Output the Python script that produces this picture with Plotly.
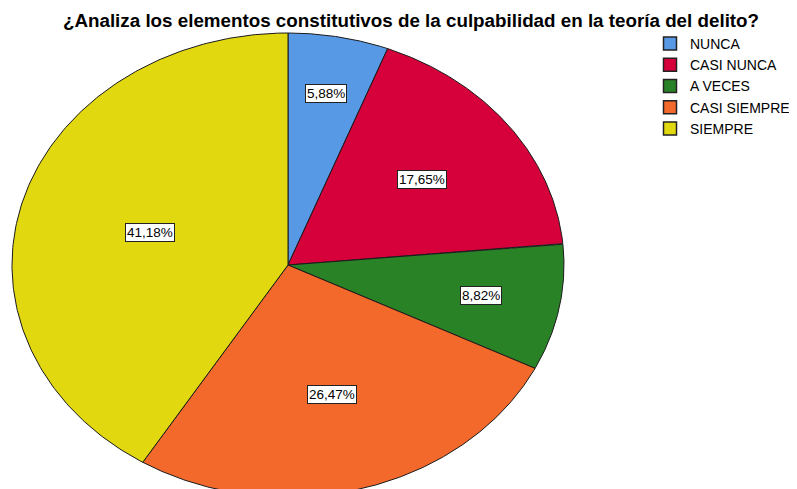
"""
Elliptical pie (SPSS style) — culpabilidad en la teoría del delito.
"""

import numpy as np
import plotly.graph_objects as go

categories = ["NUNCA", "CASI NUNCA", "A VECES", "CASI SIEMPRE", "SIEMPRE"]
percent = [5.88, 17.65, 8.82, 26.47, 41.18]
labels = ["5,88%", "17,65%", "8,82%", "26,47%", "41,18%"]

colors = ["#5899E5", "#D6003A", "#2A8227", "#F2692B", "#E2D80F"]
label_r = [0.75, 0.61, 0.71, 0.58, 0.52]

W, H = 797, 489
OFF = 8  # page body margin shifts the figure by 8px
cx, cy = 288 - OFF, 265 - OFF
rx, ry = 276, 232
FONT = "Liberation Sans, Arial"

fig = go.Figure()

total = sum(percent)
start = 0.0
for i, (cat, p) in enumerate(zip(categories, percent)):
    a0 = start / total * 2 * np.pi
    a1 = (start + p) / total * 2 * np.pi
    t = np.linspace(a0, a1, 200)
    xs = np.concatenate([[cx], cx + rx * np.sin(t), [cx]])
    ys = np.concatenate([[cy], cy - ry * np.cos(t), [cy]])
    fig.add_trace(go.Scatter(
        x=xs, y=ys,
        mode="lines",
        fill="toself",
        fillcolor=colors[i],
        line=dict(color="#1a1a1a", width=1),
        name=cat,
        hoverinfo="name",
        showlegend=False,
    ))
    # legend-only square swatch
    fig.add_trace(go.Scatter(
        x=[None], y=[None],
        mode="markers",
        marker=dict(symbol="square", size=13, color=colors[i],
                    line=dict(color="#222", width=1.5)),
        name=cat,
    ))
    am = (a0 + a1) / 2
    fig.add_annotation(
        x=cx + label_r[i] * rx * np.sin(am),
        y=cy - label_r[i] * ry * np.cos(am),
        text=labels[i],
        showarrow=False,
        bgcolor="white",
        bordercolor="#222",
        borderwidth=1,
        borderpad=1,
        font=dict(family=FONT, size=13.5, color="black"),
    )
    start += p

fig.update_layout(
    width=W, height=H,
    margin=dict(t=0, b=0, l=0, r=0, autoexpand=False),
    paper_bgcolor="white",
    plot_bgcolor="white",
    title=dict(
        text="<b>¿Analiza los elementos constitutivos de la culpabilidad en la teoría del delito?</b>",
        x=(411 - OFF) / W, xanchor="center", y=1 - (20 - OFF) / H, yanchor="middle",
        font=dict(family=FONT, size=18.8, color="black"),
    ),
    legend=dict(
        x=(650 - OFF) / W, y=1 - (28 - OFF) / H, xanchor="left", yanchor="top",
        font=dict(family=FONT, size=14, color="black"),
        tracegroupgap=0, itemwidth=30,
        bgcolor="rgba(0,0,0,0)",
    ),
    showlegend=True,
)
fig.update_xaxes(visible=False, range=[0, W], fixedrange=True)
fig.update_yaxes(visible=False, range=[H, 0], fixedrange=True)

fig.write_html("out.html")
